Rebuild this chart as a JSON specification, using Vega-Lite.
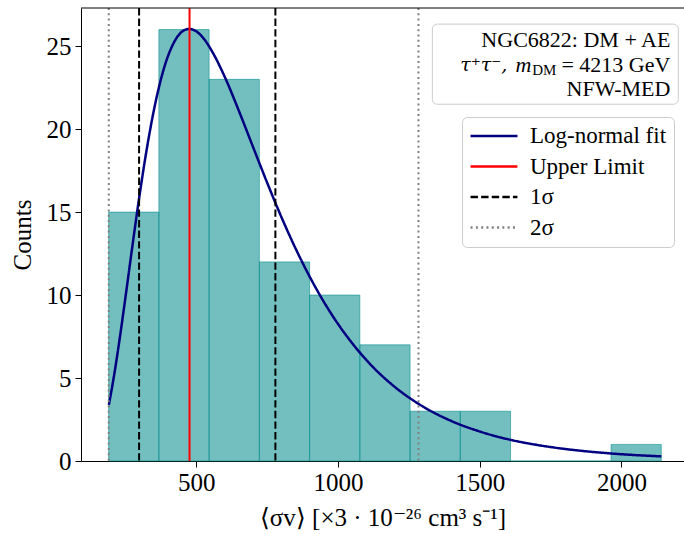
{
  "$schema": "https://vega.github.io/schema/vega-lite/v6.json",
  "width": 603,
  "height": 453,
  "autosize": {"type": "none"},
  "padding": {"left": 81, "top": 8, "right": 0, "bottom": 73},
  "background": "white",
  "config": {
    "view": {"stroke": null},
    "font": "Liberation Serif",
    "axis": {
      "labelFont": "Liberation Serif", "titleFont": "Liberation Serif",
      "labelFontSize": 25, "titleFontSize": 25, "titleFontWeight": "normal",
      "labelColor": "black", "titleColor": "black", "domainColor": "black", "tickColor": "black",
      "tickSize": 6, "grid": false, "domainWidth": 1, "tickWidth": 1,
      "labelFlush": false, "labelOverlap": false
    },
    "legend": {
      "labelFont": "Liberation Serif", "labelFontSize": 23, "labelColor": "black",
      "symbolType": "stroke", "symbolSize": 2200, "symbolStrokeWidth": 2.5,
      "strokeColor": "#cccccc", "fillColor": "white", "cornerRadius": 5,
      "padding": 7, "rowPadding": 6.5, "clipHeight": 24, "labelOffset": 11, "labelLimit": 400
    }
  },
  "datasets": {
    "hist": [
      {"bin_start": 190.5, "bin_end": 367.8, "count": 15},
      {"bin_start": 367.8, "bin_end": 545.1, "count": 26},
      {"bin_start": 545.1, "bin_end": 722.4, "count": 23},
      {"bin_start": 722.4, "bin_end": 899.7, "count": 12},
      {"bin_start": 899.7, "bin_end": 1077.0, "count": 10},
      {"bin_start": 1077.0, "bin_end": 1254.3, "count": 7},
      {"bin_start": 1254.3, "bin_end": 1431.6, "count": 3},
      {"bin_start": 1431.6, "bin_end": 1608.9, "count": 3},
      {"bin_start": 1608.9, "bin_end": 1786.2, "count": 0},
      {"bin_start": 1786.2, "bin_end": 1963.5, "count": 0},
      {"bin_start": 1963.5, "bin_end": 2140.8, "count": 1}
    ],
    "fit": [
      {"x": 191, "count": 3.37, "series": "Log-normal fit"},
      {"x": 200, "count": 4.19, "series": "Log-normal fit"},
      {"x": 215, "count": 5.72, "series": "Log-normal fit"},
      {"x": 230, "count": 7.43, "series": "Log-normal fit"},
      {"x": 250, "count": 9.88, "series": "Log-normal fit"},
      {"x": 275, "count": 13.03, "series": "Log-normal fit"},
      {"x": 300, "count": 16.06, "series": "Log-normal fit"},
      {"x": 330, "count": 19.29, "series": "Log-normal fit"},
      {"x": 360, "count": 21.93, "series": "Log-normal fit"},
      {"x": 390, "count": 23.90, "series": "Log-normal fit"},
      {"x": 420, "count": 25.19, "series": "Log-normal fit"},
      {"x": 450, "count": 25.88, "series": "Log-normal fit"},
      {"x": 475, "count": 26.04, "series": "Log-normal fit"},
      {"x": 500, "count": 25.89, "series": "Log-normal fit"},
      {"x": 530, "count": 25.37, "series": "Log-normal fit"},
      {"x": 560, "count": 24.55, "series": "Log-normal fit"},
      {"x": 600, "count": 23.16, "series": "Log-normal fit"},
      {"x": 650, "count": 21.11, "series": "Log-normal fit"},
      {"x": 700, "count": 18.93, "series": "Log-normal fit"},
      {"x": 750, "count": 16.77, "series": "Log-normal fit"},
      {"x": 800, "count": 14.71, "series": "Log-normal fit"},
      {"x": 860, "count": 12.46, "series": "Log-normal fit"},
      {"x": 920, "count": 10.48, "series": "Log-normal fit"},
      {"x": 980, "count": 8.77, "series": "Log-normal fit"},
      {"x": 1050, "count": 7.10, "series": "Log-normal fit"},
      {"x": 1120, "count": 5.72, "series": "Log-normal fit"},
      {"x": 1200, "count": 4.47, "series": "Log-normal fit"},
      {"x": 1300, "count": 3.28, "series": "Log-normal fit"},
      {"x": 1400, "count": 2.41, "series": "Log-normal fit"},
      {"x": 1500, "count": 1.78, "series": "Log-normal fit"},
      {"x": 1600, "count": 1.31, "series": "Log-normal fit"},
      {"x": 1700, "count": 0.975, "series": "Log-normal fit"},
      {"x": 1800, "count": 0.728, "series": "Log-normal fit"},
      {"x": 1900, "count": 0.545, "series": "Log-normal fit"},
      {"x": 2000, "count": 0.41, "series": "Log-normal fit"},
      {"x": 2141, "count": 0.278, "series": "Log-normal fit"}
    ],
    "lines": [
      {"value": 476, "series": "Upper Limit"},
      {"value": 298, "series": "1σ"},
      {"value": 779, "series": "1σ"},
      {"value": 191, "series": "2σ"},
      {"value": 1284, "series": "2σ"}
    ]
  },
  "layer": [
    {
      "data": {"name": "hist"},
      "mark": {"type": "rect", "fill": "#008b8b", "fillOpacity": 0.55, "stroke": "#008b8b", "strokeOpacity": 0.55, "strokeWidth": 1},
      "encoding": {
        "x": {"field": "bin_start", "type": "quantitative",
              "scale": {"domain": [93, 2221], "nice": false, "zero": false},
              "axis": {"values": [500, 1000, 1500, 2000], "format": "d", "labelPadding": 3, "titlePadding": 10},
              "title": "⟨σv⟩ [×3 · 10⁻²⁶ cm³ s⁻¹]"},
        "x2": {"field": "bin_end"},
        "y": {"field": "count", "type": "quantitative",
              "scale": {"domain": [0, 27.3], "nice": false},
              "axis": {"values": [0, 5, 10, 15, 20, 25], "labelPadding": 4, "titlePadding": 11},
              "title": "Counts"},
        "y2": {"datum": 0}
      }
    },
    {
      "data": {"name": "fit"},
      "mark": {"type": "line", "strokeWidth": 2.5, "interpolate": "monotone"},
      "encoding": {
        "x": {"field": "x", "type": "quantitative", "title": "⟨σv⟩ [×3 · 10⁻²⁶ cm³ s⁻¹]"},
        "y": {"field": "count", "type": "quantitative", "title": "Counts"},
        "color": {"field": "series", "type": "nominal",
                  "scale": {"domain": ["Log-normal fit", "Upper Limit", "1σ", "2σ"], "range": ["#000080", "#ff0000", "#000000", "#808080"]},
                  "legend": {"title": null, "orient": "none", "legendX": 381, "legendY": 109}},
        "strokeDash": {"field": "series", "type": "nominal",
                  "scale": {"domain": ["Log-normal fit", "Upper Limit", "1σ", "2σ"], "range": [[1, 0], [1, 0], [7.4, 3.2], [2, 3.3]]},
                  "legend": {"title": null, "orient": "none", "legendX": 381, "legendY": 109}}
      }
    },
    {
      "data": {"name": "lines"},
      "mark": {"type": "rule", "strokeWidth": 2},
      "encoding": {
        "x": {"field": "value", "type": "quantitative", "title": "⟨σv⟩ [×3 · 10⁻²⁶ cm³ s⁻¹]"},
        "color": {"field": "series", "type": "nominal"},
        "strokeDash": {"field": "series", "type": "nominal"}
      }
    },
    {
      "data": {"values": [{}]},
      "mark": {"type": "rule", "color": "black", "strokeWidth": 1},
      "encoding": {"y": {"datum": 27.3, "type": "quantitative"}}
    },
    {
      "data": {"values": [{}]},
      "mark": {"type": "rect", "fill": "white", "fillOpacity": 0.8, "stroke": "#cccccc", "strokeWidth": 1, "cornerRadius": 5},
      "encoding": {
        "x": {"datum": 1333, "type": "quantitative"},
        "x2": {"datum": 2201},
        "y": {"datum": 26.33, "type": "quantitative"},
        "y2": {"datum": 21.5}
      }
    },
    {
      "data": {"values": [{"label": "NGC6822: DM + AE"}]},
      "mark": {"type": "text", "align": "right", "baseline": "middle", "font": "Liberation Serif", "fontSize": 22, "color": "black"},
      "encoding": {"x": {"datum": 2173, "type": "quantitative"}, "y": {"datum": 25.36, "type": "quantitative"}, "text": {"field": "label"}}
    },
    {
      "data": {"values": [{"label": " = 4213 GeV"}]},
      "mark": {"type": "text", "align": "right", "baseline": "middle", "font": "Liberation Serif", "fontSize": 22, "color": "black"},
      "encoding": {"x": {"datum": 2173, "type": "quantitative"}, "y": {"datum": 23.86, "type": "quantitative"}, "text": {"field": "label"}}
    },
    {
      "data": {"values": [{"label": "DM"}]},
      "mark": {"type": "text", "align": "right", "baseline": "middle", "font": "Liberation Serif", "fontSize": 15, "color": "black", "dx": -114, "dy": 5},
      "encoding": {"x": {"datum": 2173, "type": "quantitative"}, "y": {"datum": 23.86, "type": "quantitative"}, "text": {"field": "label"}}
    },
    {
      "data": {"values": [{"label": "m"}]},
      "mark": {"type": "text", "align": "right", "baseline": "middle", "font": "Liberation Serif", "fontStyle": "italic", "fontSize": 22, "color": "black", "dx": -139},
      "encoding": {"x": {"datum": 2173, "type": "quantitative"}, "y": {"datum": 23.86, "type": "quantitative"}, "text": {"field": "label"}}
    },
    {
      "data": {"values": [{"label": "τ⁺τ⁻,"}]},
      "mark": {"type": "text", "align": "right", "baseline": "middle", "font": "DejaVu Serif", "fontStyle": "italic", "fontSize": 19, "color": "black", "dx": -163},
      "encoding": {"x": {"datum": 2173, "type": "quantitative"}, "y": {"datum": 23.86, "type": "quantitative"}, "text": {"field": "label"}}
    },
    {
      "data": {"values": [{"label": "NFW-MED"}]},
      "mark": {"type": "text", "align": "right", "baseline": "middle", "font": "Liberation Serif", "fontSize": 22, "color": "black"},
      "encoding": {"x": {"datum": 2173, "type": "quantitative"}, "y": {"datum": 22.41, "type": "quantitative"}, "text": {"field": "label"}}
    }
  ]
}
